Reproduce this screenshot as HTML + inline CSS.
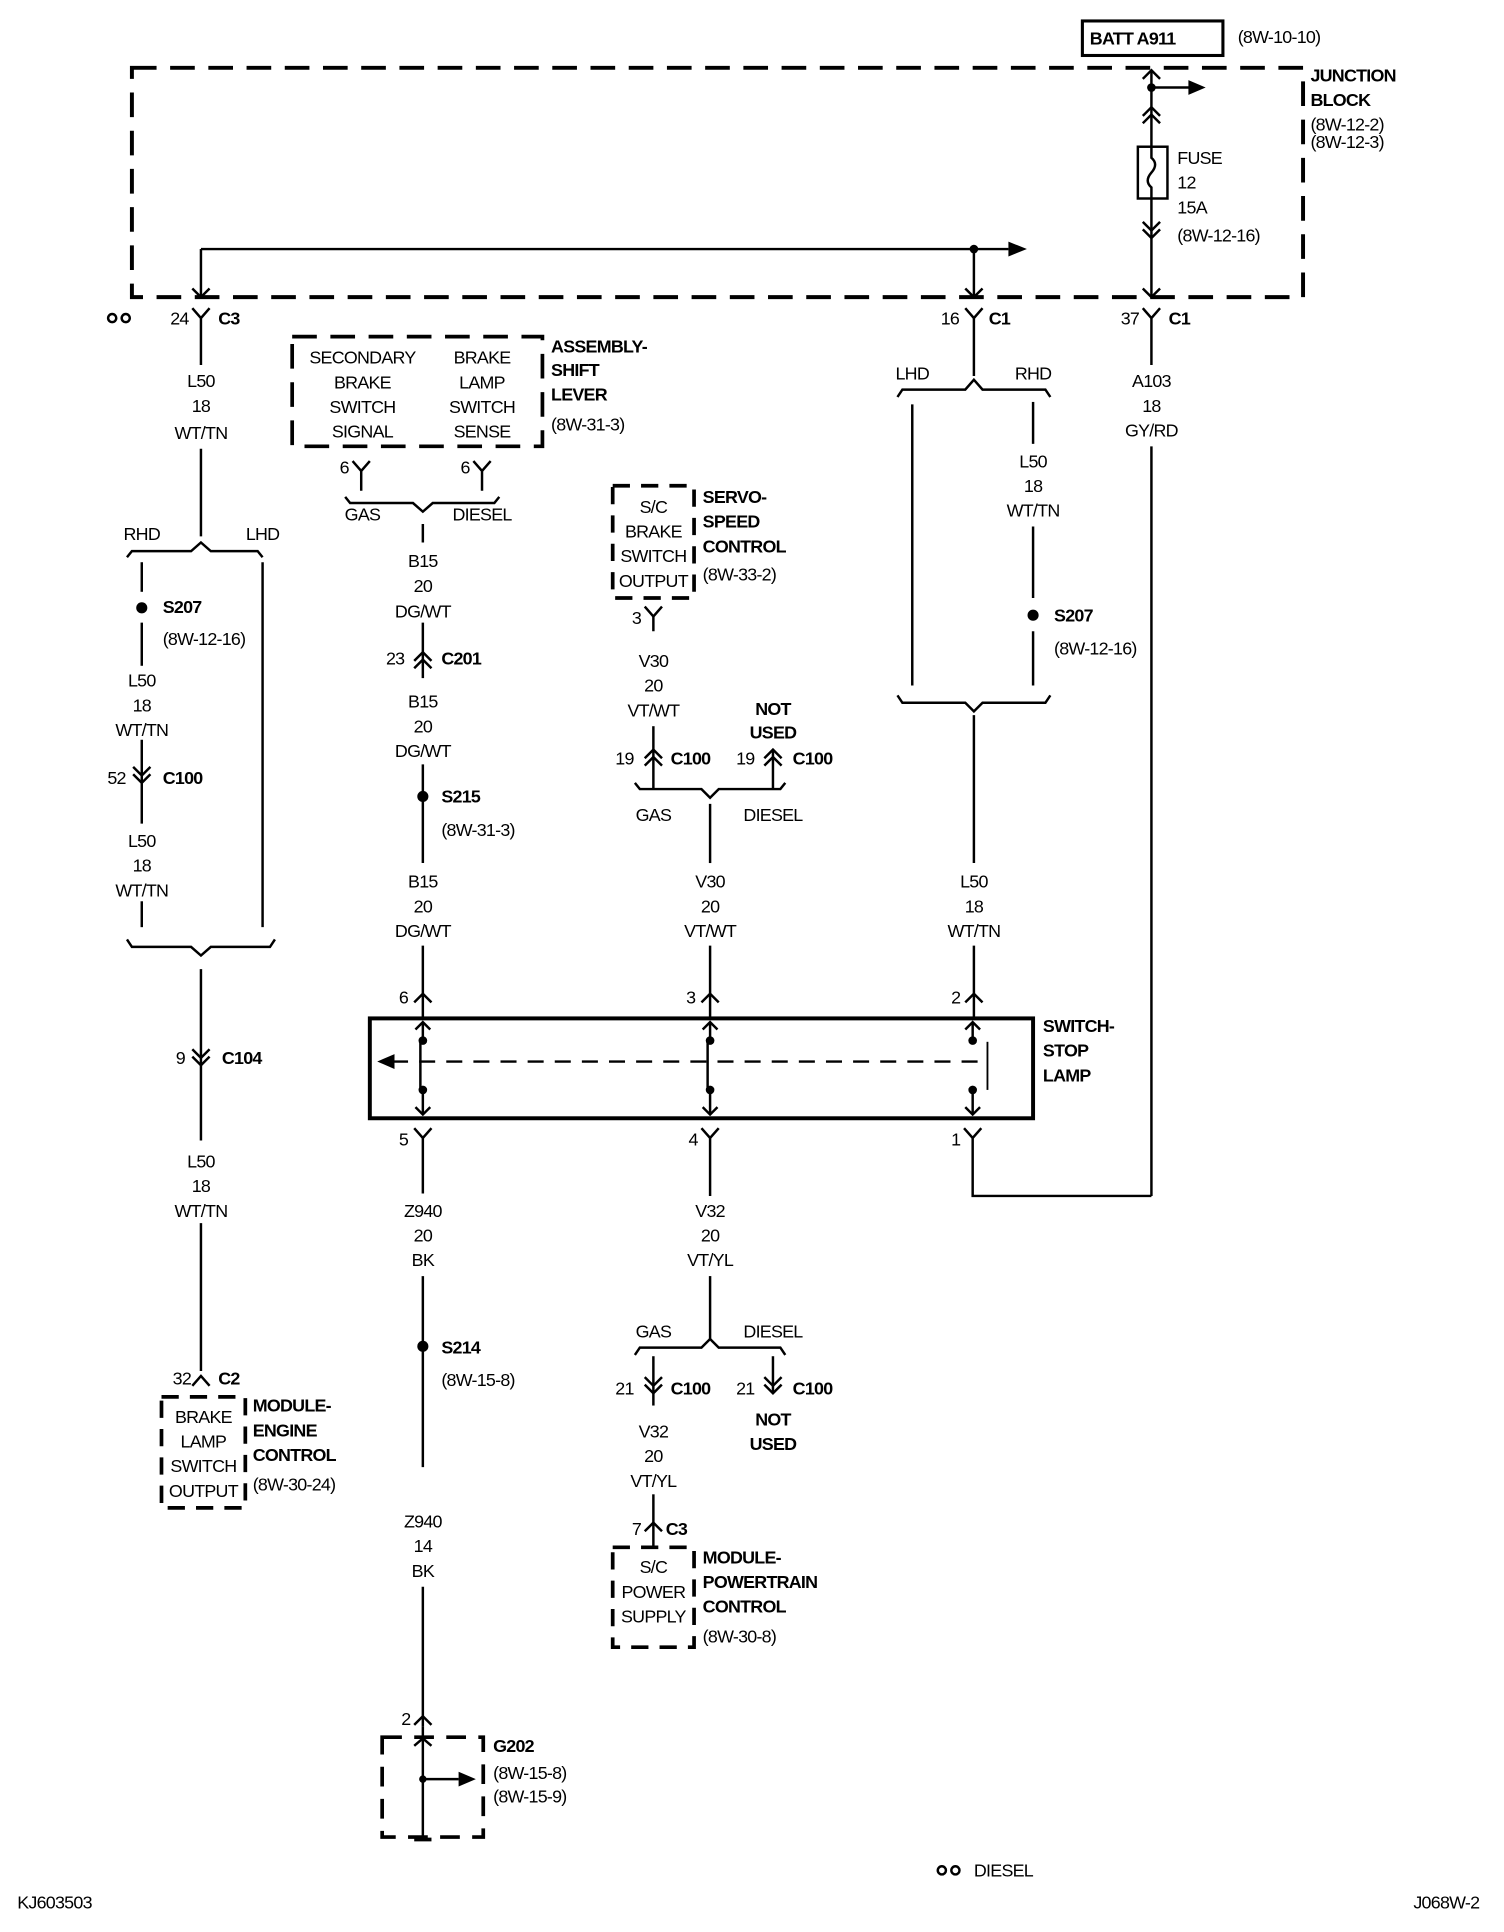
<!DOCTYPE html>
<html><head><meta charset="utf-8"><style>
html,body{margin:0;padding:0;background:#fff;}
svg{display:block;}
text{font-family:"Liberation Sans",sans-serif;font-size:14.5px;fill:#000;letter-spacing:-0.6px;}
.b{font-weight:bold;}
.c{text-anchor:middle;}
.e{text-anchor:end;}
</style></head><body>
<svg width="1504" height="1932" viewBox="0 0 1220 1567" preserveAspectRatio="none" xmlns="http://www.w3.org/2000/svg">
<g fill="none" stroke="#000" stroke-width="2">
<rect x="107" y="55" width="950" height="186" stroke-width="3.2" stroke-dasharray="20,11"/>
<rect x="878" y="17" width="114" height="28" stroke-width="2.5"/>
<line x1="934" y1="57" x2="934" y2="241"/>
<path d="M927 64 L934 57 L941 64"/>
<line x1="934" y1="71" x2="965" y2="71"/>
<path d="M927 94 L934 87 L941 94 M927 100 L934 93 L941 100"/>
<rect x="923" y="119" width="24" height="42" fill="#fff"/>
<path d="M934 119 V128 Q940 133 934 140 Q928 147 934 152 V161"/>
<path d="M927 180 L934 187 L941 180 M927 186 L934 193 L941 186"/>
<path d="M927 234 L934 241 L941 234"/>
<line x1="163" y1="202" x2="818" y2="202"/>
<line x1="163" y1="202" x2="163" y2="241"/>
<line x1="790" y1="202" x2="790" y2="241"/>
<path d="M156 234 L163 241 L170 234 M783 234 L790 241 L797 234"/>
<path d="M156 250 L163 258 L170 250 M163 258 V296"/>
<path d="M783 250 L790 258 L797 250 M790 258 V305"/>
<path d="M927 250 L934 258 L941 250 M934 258 V296"/>
<line x1="163" y1="364" x2="163" y2="435"/>
<path d="M103 452 L107 447 L155 447 L163 440 L171 447 L209 447 L213 452"/>
<line x1="115" y1="456" x2="115" y2="480"/>
<line x1="115" y1="505" x2="115" y2="540"/>
<line x1="115" y1="600" x2="115" y2="668"/>
<path d="M108 622 L115 629 L122 622 M108 628 L115 635 L122 628"/>
<line x1="115" y1="731" x2="115" y2="752"/>
<line x1="213" y1="456" x2="213" y2="752"/>
<path d="M103 762 L107 768 L155 768 L163 775 L171 768 L219 768 L223 762"/>
<line x1="163" y1="786" x2="163" y2="925"/>
<path d="M156 851 L163 858 L170 851 M156 857 L163 864 L170 857"/>
<line x1="163" y1="992" x2="163" y2="1112"/>
<path d="M156 1124 L163 1116 L170 1124"/>
<rect x="131" y="1133" width="68" height="90" stroke-width="3" stroke-dasharray="14,9"/>
<rect x="237" y="273" width="203" height="89" stroke-width="3" stroke-dasharray="20,11"/>
<path d="M286 374 L293 382 L300 374 M293 382 V398"/>
<path d="M384 374 L391 382 L398 374 M391 382 V398"/>
<path d="M280 403 L284 408 L335 408 L343 415 L351 408 L401 408 L405 403"/>
<line x1="343" y1="425" x2="343" y2="440"/>
<line x1="343" y1="505" x2="343" y2="550"/>
<path d="M336 536 L343 529 L350 536 M336 542 L343 535 L350 542"/>
<line x1="343" y1="620" x2="343" y2="700"/>
<line x1="343" y1="767" x2="343" y2="826"/>
<path d="M336 813 L343 806 L350 813"/>
<rect x="497" y="394" width="66" height="91" stroke-width="3" stroke-dasharray="14,9"/>
<path d="M523 492 L530 500 L537 492 M530 500 V512"/>
<line x1="530" y1="589" x2="530" y2="640"/>
<path d="M523 615 L530 608 L537 615 M523 621 L530 614 L537 621"/>
<line x1="627" y1="608" x2="627" y2="640"/>
<path d="M620 615 L627 608 L634 615 M620 621 L627 614 L634 621"/>
<path d="M515 635 L519 640 L569 640 L576 647 L583 640 L633 640 L637 635"/>
<line x1="576" y1="652" x2="576" y2="700"/>
<line x1="576" y1="767" x2="576" y2="826"/>
<path d="M569 813 L576 806 L583 813"/>
<path d="M728 322 L732 316 L783 316 L790 308 L797 316 L848 316 L852 322"/>
<line x1="740" y1="328" x2="740" y2="556"/>
<line x1="838" y1="326" x2="838" y2="360"/>
<line x1="838" y1="427" x2="838" y2="485"/>
<line x1="838" y1="512" x2="838" y2="556"/>
<path d="M728 564 L732 570 L783 570 L790 577 L797 570 L848 570 L852 564"/>
<line x1="790" y1="580" x2="790" y2="700"/>
<line x1="790" y1="767" x2="790" y2="826"/>
<path d="M783 813 L790 806 L797 813"/>
<line x1="934" y1="362" x2="934" y2="970"/>
<rect x="300" y="826" width="538" height="81" stroke-width="3.2"/>
<path d="M337 835 L343 829 L349 835 M343 829 V843"/>
<path d="M570 835 L576 829 L582 835 M576 829 V843"/>
<path d="M783 835 L789 829 L795 835 M789 829 V843"/>
<path d="M341 843 V885 M574 843 V885"/>
<path d="M343 885 V904 M337 898 L343 904 L349 898"/>
<path d="M576 885 V904 M570 898 L576 904 L582 898"/>
<path d="M789 885 V904 M783 898 L789 904 L795 898"/>
<line x1="318" y1="861" x2="800" y2="861" stroke-dasharray="13,9"/>
<line x1="801" y1="845" x2="801" y2="884" stroke-width="1.5"/>
<path d="M336 915 L343 923 L350 915 M343 923 V968"/>
<path d="M569 915 L576 923 L583 915 M576 923 V970"/>
<path d="M782 915 L789 923 L796 915 M789 923 V970 H934"/>
<line x1="343" y1="1035" x2="343" y2="1190"/>
<line x1="343" y1="1287" x2="343" y2="1400"/>
<path d="M336 1399 L343 1392 L350 1399"/>
<rect x="310" y="1409" width="82" height="81" stroke-width="3" stroke-dasharray="16,10"/>
<line x1="343" y1="1400" x2="343" y2="1490"/>
<line x1="343" y1="1443" x2="372" y2="1443"/>
<path d="M336 1416 L343 1410 L350 1416"/>
<line x1="336" y1="1492" x2="350" y2="1492" stroke-width="3"/>
<line x1="576" y1="1035" x2="576" y2="1086"/>
<path d="M515 1099 L519 1093 L569 1093 L576 1086 L583 1093 L633 1093 L637 1099"/>
<line x1="530" y1="1100" x2="530" y2="1140"/>
<path d="M523 1117 L530 1124 L537 1117 M523 1123 L530 1130 L537 1123"/>
<line x1="627" y1="1100" x2="627" y2="1130"/>
<path d="M620 1117 L627 1124 L634 1117 M620 1123 L627 1130 L634 1123"/>
<line x1="530" y1="1212" x2="530" y2="1255"/>
<path d="M523 1242 L530 1235 L537 1242"/>
<rect x="497" y="1255" width="66" height="81" stroke-width="3" stroke-dasharray="14,9"/>
<circle cx="91" cy="258" r="3.3"/><circle cx="102" cy="258" r="3.3"/>
<circle cx="764" cy="1517" r="3.3"/><circle cx="775" cy="1517" r="3.3"/>
</g>
<g fill="#000">
<circle cx="934" cy="71" r="3.5"/>
<circle cx="790" cy="202" r="3.5"/>
<path d="M978 71 L964 65 L964 77 Z"/>
<path d="M833 202 L818 196 L818 208 Z"/>
<path d="M306 861 L320 855 L320 867 Z"/>
<path d="M386 1443 L372 1437 L372 1449 Z"/>
<circle cx="343" cy="1443" r="3"/>
<circle cx="115" cy="493" r="4.5"/>
<circle cx="838" cy="499" r="4.5"/>
<circle cx="343" cy="646" r="4.5"/>
<circle cx="343" cy="1092" r="4.5"/>
<circle cx="343" cy="844" r="3.5"/><circle cx="343" cy="884" r="3.5"/>
<circle cx="576" cy="844" r="3.5"/><circle cx="576" cy="884" r="3.5"/>
<circle cx="789" cy="844" r="3.5"/><circle cx="789" cy="884" r="3.5"/>
</g>
<text x="884" y="36" class="b">BATT A911</text>
<text x="1004" y="35">(8W-10-10)</text>
<text x="1063" y="66" class="b">JUNCTION</text>
<text x="1063" y="86" class="b">BLOCK</text>
<text x="1063" y="106">(8W-12-2)</text>
<text x="1063" y="120">(8W-12-3)</text>
<text x="955" y="133">FUSE</text>
<text x="955" y="153">12</text>
<text x="955" y="173">15A</text>
<text x="955" y="196">(8W-12-16)</text>
<text x="153" y="263" class="e">24</text><text x="177" y="263" class="b">C3</text>
<text x="778" y="263" class="e">16</text><text x="802" y="263" class="b">C1</text>
<text x="924" y="263" class="e">37</text><text x="948" y="263" class="b">C1</text>
<text x="163" y="314" class="c">L50</text><text x="163" y="334" class="c">18</text><text x="163" y="356" class="c">WT/TN</text>
<text x="115" y="438" class="c">RHD</text><text x="213" y="438" class="c">LHD</text>
<text x="132" y="497" class="b">S207</text><text x="132" y="523">(8W-12-16)</text>
<text x="115" y="557" class="c">L50</text><text x="115" y="577" class="c">18</text><text x="115" y="597" class="c">WT/TN</text>
<text x="102" y="636" class="e">52</text><text x="132" y="636" class="b">C100</text>
<text x="115" y="687" class="c">L50</text><text x="115" y="707" class="c">18</text><text x="115" y="727" class="c">WT/TN</text>
<text x="150" y="863" class="e">9</text><text x="180" y="863" class="b">C104</text>
<text x="163" y="947" class="c">L50</text><text x="163" y="967" class="c">18</text><text x="163" y="987" class="c">WT/TN</text>
<text x="155" y="1123" class="e">32</text><text x="177" y="1123" class="b">C2</text>
<text x="165" y="1154" class="c">BRAKE</text><text x="165" y="1174" class="c">LAMP</text><text x="165" y="1194" class="c">SWITCH</text><text x="165" y="1214" class="c">OUTPUT</text>
<text x="205" y="1145" class="b">MODULE-</text><text x="205" y="1165" class="b">ENGINE</text><text x="205" y="1185" class="b">CONTROL</text><text x="205" y="1209">(8W-30-24)</text>
<text x="294" y="295" class="c">SECONDARY</text><text x="294" y="315" class="c">BRAKE</text><text x="294" y="335" class="c">SWITCH</text><text x="294" y="355" class="c">SIGNAL</text>
<text x="391" y="295" class="c">BRAKE</text><text x="391" y="315" class="c">LAMP</text><text x="391" y="335" class="c">SWITCH</text><text x="391" y="355" class="c">SENSE</text>
<text x="447" y="286" class="b">ASSEMBLY-</text><text x="447" y="305" class="b">SHIFT</text><text x="447" y="325" class="b">LEVER</text><text x="447" y="349">(8W-31-3)</text>
<text x="283" y="384" class="e">6</text><text x="381" y="384" class="e">6</text>
<text x="294" y="422" class="c">GAS</text><text x="391" y="422" class="c">DIESEL</text>
<text x="343" y="460" class="c">B15</text><text x="343" y="480" class="c">20</text><text x="343" y="501" class="c">DG/WT</text>
<text x="328" y="539" class="e">23</text><text x="358" y="539" class="b">C201</text>
<text x="343" y="574" class="c">B15</text><text x="343" y="594" class="c">20</text><text x="343" y="614" class="c">DG/WT</text>
<text x="358" y="651" class="b">S215</text><text x="358" y="678">(8W-31-3)</text>
<text x="343" y="720" class="c">B15</text><text x="343" y="740" class="c">20</text><text x="343" y="760" class="c">DG/WT</text>
<text x="331" y="814" class="e">6</text>
<text x="564" y="814" class="e">3</text>
<text x="779" y="814" class="e">2</text>
<text x="846" y="837" class="b">SWITCH-</text><text x="846" y="857" class="b">STOP</text><text x="846" y="877" class="b">LAMP</text>
<text x="331" y="929" class="e">5</text><text x="566" y="929" class="e">4</text><text x="779" y="929" class="e">1</text>
<text x="343" y="987" class="c">Z940</text><text x="343" y="1007" class="c">20</text><text x="343" y="1027" class="c">BK</text>
<text x="358" y="1098" class="b">S214</text><text x="358" y="1124">(8W-15-8)</text>
<text x="343" y="1239" class="c">Z940</text><text x="343" y="1259" class="c">14</text><text x="343" y="1279" class="c">BK</text>
<text x="333" y="1399" class="e">2</text>
<text x="400" y="1421" class="b">G202</text><text x="400" y="1443">(8W-15-8)</text><text x="400" y="1462">(8W-15-9)</text>
<text x="530" y="416" class="c">S/C</text><text x="530" y="436" class="c">BRAKE</text><text x="530" y="456" class="c">SWITCH</text><text x="530" y="476" class="c">OUTPUT</text>
<text x="570" y="408" class="b">SERVO-</text><text x="570" y="428" class="b">SPEED</text><text x="570" y="448" class="b">CONTROL</text><text x="570" y="471">(8W-33-2)</text>
<text x="520" y="506" class="e">3</text>
<text x="530" y="541" class="c">V30</text><text x="530" y="561" class="c">20</text><text x="530" y="581" class="c">VT/WT</text>
<text x="627" y="580" class="c b">NOT</text><text x="627" y="599" class="c b">USED</text>
<text x="514" y="620" class="e">19</text><text x="544" y="620" class="b">C100</text>
<text x="612" y="620" class="e">19</text><text x="643" y="620" class="b">C100</text>
<text x="530" y="666" class="c">GAS</text><text x="627" y="666" class="c">DIESEL</text>
<text x="576" y="720" class="c">V30</text><text x="576" y="740" class="c">20</text><text x="576" y="760" class="c">VT/WT</text>
<text x="576" y="987" class="c">V32</text><text x="576" y="1007" class="c">20</text><text x="576" y="1027" class="c">VT/YL</text>
<text x="530" y="1085" class="c">GAS</text><text x="627" y="1085" class="c">DIESEL</text>
<text x="514" y="1131" class="e">21</text><text x="544" y="1131" class="b">C100</text>
<text x="612" y="1131" class="e">21</text><text x="643" y="1131" class="b">C100</text>
<text x="627" y="1156" class="c b">NOT</text><text x="627" y="1176" class="c b">USED</text>
<text x="530" y="1166" class="c">V32</text><text x="530" y="1186" class="c">20</text><text x="530" y="1206" class="c">VT/YL</text>
<text x="520" y="1245" class="e">7</text><text x="540" y="1245" class="b">C3</text>
<text x="530" y="1276" class="c">S/C</text><text x="530" y="1296" class="c">POWER</text><text x="530" y="1316" class="c">SUPPLY</text>
<text x="570" y="1268" class="b">MODULE-</text><text x="570" y="1288" class="b">POWERTRAIN</text><text x="570" y="1308" class="b">CONTROL</text><text x="570" y="1332">(8W-30-8)</text>
<text x="740" y="308" class="c">LHD</text><text x="838" y="308" class="c">RHD</text>
<text x="838" y="379" class="c">L50</text><text x="838" y="399" class="c">18</text><text x="838" y="419" class="c">WT/TN</text>
<text x="855" y="504" class="b">S207</text><text x="855" y="531">(8W-12-16)</text>
<text x="790" y="720" class="c">L50</text><text x="790" y="740" class="c">18</text><text x="790" y="760" class="c">WT/TN</text>
<text x="934" y="314" class="c">A103</text><text x="934" y="334" class="c">18</text><text x="934" y="354" class="c">GY/RD</text>
<text x="790" y="1522">DIESEL</text>
<text x="14" y="1548">KJ603503</text>
<text x="1200" y="1548" class="e">J068W-2</text>
</svg>
</body></html>
